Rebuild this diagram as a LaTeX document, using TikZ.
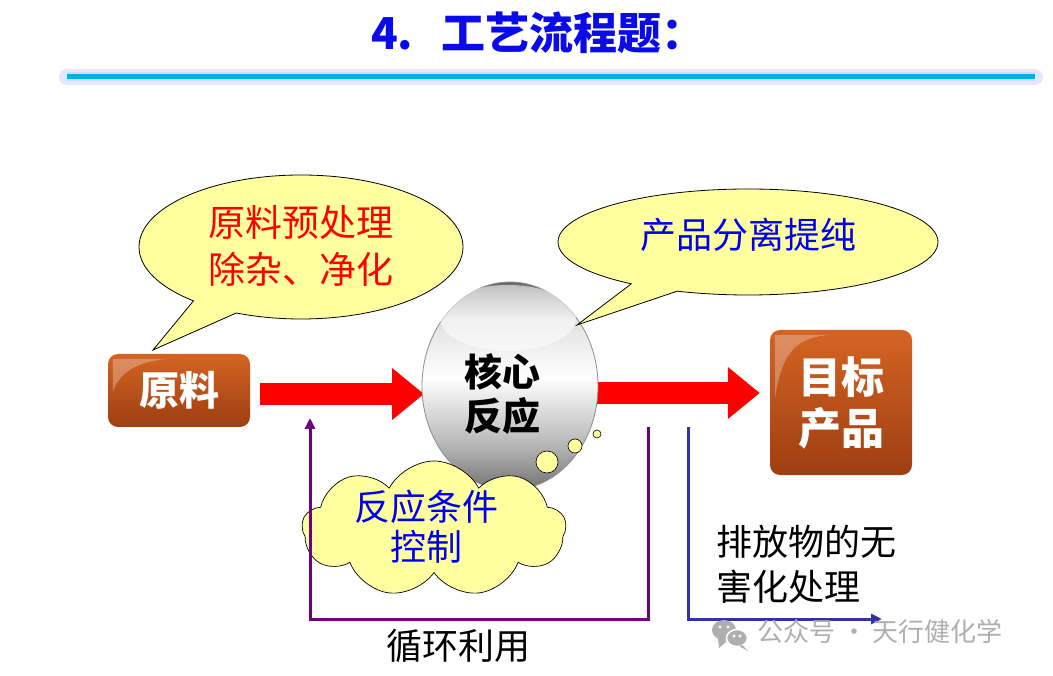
\documentclass[tikz,border=0pt]{standalone}
\usepackage{fontspec}
\setmainfont{Noto Sans CJK SC}
\usetikzlibrary{shapes.symbols,shapes.callouts,shapes.geometric,arrows.meta}
\definecolor{bubfill}{RGB}{255,255,160}
\definecolor{titleblue}{RGB}{10,10,235}
\definecolor{txtblue}{RGB}{0,0,240}
\definecolor{lineblue}{RGB}{0,176,240}
\definecolor{glow}{RGB}{215,215,245}
\definecolor{boxtop}{RGB}{212,100,35}
\definecolor{boxbot}{RGB}{158,62,18}
\definecolor{purp}{RGB}{112,0,128}
\definecolor{dblue}{RGB}{50,50,165}
\definecolor{wm}{RGB}{175,175,175}
\pgfdeclareverticalshading{egg}{100bp}{color(0bp)=(black!55); color(25bp)=(black!55); color(36bp)=(black!28); color(52bp)=(white); color(66bp)=(black!12); color(72bp)=(black!40); color(75bp)=(black!60); color(100bp)=(black!60)}
\begin{document}
\begin{tikzpicture}[x=1pt,y=-1pt,
  bubble/.style={ellipse callout, draw=black, line width=0.8pt, fill=bubfill, callout pointer arc=18},
  brownbox/.style={rounded corners=10pt, top color=boxtop, bottom color=boxbot, draw=none, text=white, font=\bfseries\fontsize{40}{50}\selectfont, align=center, inner sep=0pt},
  redarrow/.style={draw=red, line width=22pt, -{Triangle[length={32pt 0},width={50pt 0}]}, red},
  loopline/.style={draw=purp, line width=3pt, -{Triangle[length={11pt 0},width={10pt 0}]}},
  outline/.style={draw=dblue, line width=3pt, -{Triangle[length={11pt 0},width={10pt 0}]}},
  txt/.style={font=\fontsize{36}{45}\selectfont, align=center, inner sep=0pt},
  puff/.style={circle, draw=black, line width=0.6pt, fill=bubfill, inner sep=0pt}
]
\useasboundingbox (0,0) rectangle (1053,676);
\fill[white] (0,0) rectangle (1053,676);

% title
\node[font=\bfseries\fontsize{44}{50}\selectfont, text=titleblue, inner sep=0pt, anchor=west] (title) at (371,33) {4.\hspace{28pt}工艺流程题：};
\coordinate (l1) at (67,77);
\coordinate (l2) at (1035,77);
\draw[glow, line width=16pt, opacity=0.6, line cap=round] (l1) -- (l2);
\draw[glow!80!blue!60, line width=9pt, opacity=0.5] (l1) -- (l2);
\draw[lineblue, line width=5pt] (l1) -- (l2);

% boxes
\node[brownbox, minimum width=142pt, minimum height=73pt] (yl) at (179,390.5) {原料};
\node[brownbox, minimum width=142pt, minimum height=145pt, font=\bfseries\fontsize{43}{51}\selectfont] (prod) at (841,402.5) {目标\\产品};
\foreach \b/\h in {yl/38, prod/70}{
  \fill[white, opacity=0.28] ([shift={(5,5)}]\b.north west) -- ([shift={(62,5)}]\b.north west)
     .. controls ([shift={(30,7)}]\b.north west) and ([shift={(12,18)}]\b.north west) .. ([shift={(5,\h)}]\b.north west) -- cycle;
}

% egg position
\coordinate (eggc) at (510,386);

% red arrows (behind the egg)
\draw[redarrow] ([shift={(10,3.5)}]yl.east) -- ([shift={(-86,8)}]eggc);
\draw[redarrow] ([shift={(0,7)}]eggc) -- ([shift={(-10,-9.5)}]prod.west);

% egg
\node[ellipse, minimum width=176pt, minimum height=208pt, shading=egg, draw=black!45, line width=0.8pt, inner sep=0pt] (egg) at (eggc) {};
\fill[white, opacity=0.55] (508,318) ellipse [x radius=68, y radius=33];
\node[txt, font=\bfseries\fontsize{38}{44}\selectfont] (core) at (502,394) {核心\\反应};

% speech bubbles
\node[bubble, minimum width=324pt, minimum height=144pt, callout absolute pointer={(153,350)}] (b1) at (301,247) {};
\node[txt, text=red, font=\fontsize{37}{47}\selectfont] (b1t) at (301,246) {原料预处理\\除杂、净化};
\node[bubble, minimum width=380pt, minimum height=106pt, callout absolute pointer={(577,325)}, callout pointer arc=16] (b2) at (748,242) {};
\node[txt, text=txtblue] (b2t) at (748,235) {产品分离提纯};

% cloud
\node[cloud, cloud puffs=9, cloud puff arc=125, aspect=2, draw=black, line width=0.7pt, fill=bubfill, minimum width=264pt, minimum height=136pt] (cl) at (434,529) {};
\node[txt, text=txtblue, font=\fontsize{36}{40}\selectfont] (clt) at (426,527) {反应条件\\控制};
\node[puff, minimum size=22pt] (p3) at (547,462) {};
\node[puff, minimum size=14pt] (p2) at (575,446) {};
\node[puff, minimum size=8pt] (p1) at (597,434) {};

% recycle loop
\coordinate (r1) at (648,427);
\coordinate (r2) at (310,418);
\coordinate (rb) at (0,619);
\draw[loopline] (r1) -- (r1 |- rb) -- (r2 |- rb) -- (r2);
\node[txt, font=\fontsize{36}{45}\selectfont] (cyc) at (458,646) {循环利用};

% emission line
\coordinate (e1) at (688,427);
\coordinate (e2) at (882,619);
\draw[outline] (e1) -- (e1 |- e2) -- (e2);
\node[txt, align=left, anchor=west] (emt) at (716,564) {排放物的无\\害化处理};

% watermark
\fill[wm] (724,630) ellipse [x radius=12, y radius=10];
\fill[wm] (727,641) -- (719,648) -- (718,638) -- cycle;
\draw[white, line width=1.5pt, fill=wm] (737,638) ellipse [x radius=10.5, y radius=8.5];
\fill[wm] (742,645) -- (748,651) -- (739,646) -- cycle;
\foreach \p in {(720,627),(728,627),(734,636),(740,636)} \fill[white] \p circle (1.6);
\node[text=wm, font=\fontsize{26}{30}\selectfont, anchor=west, inner sep=0pt] (wmt) at (757,632) {公众号 · 天行健化学};
\end{tikzpicture}
\end{document}
